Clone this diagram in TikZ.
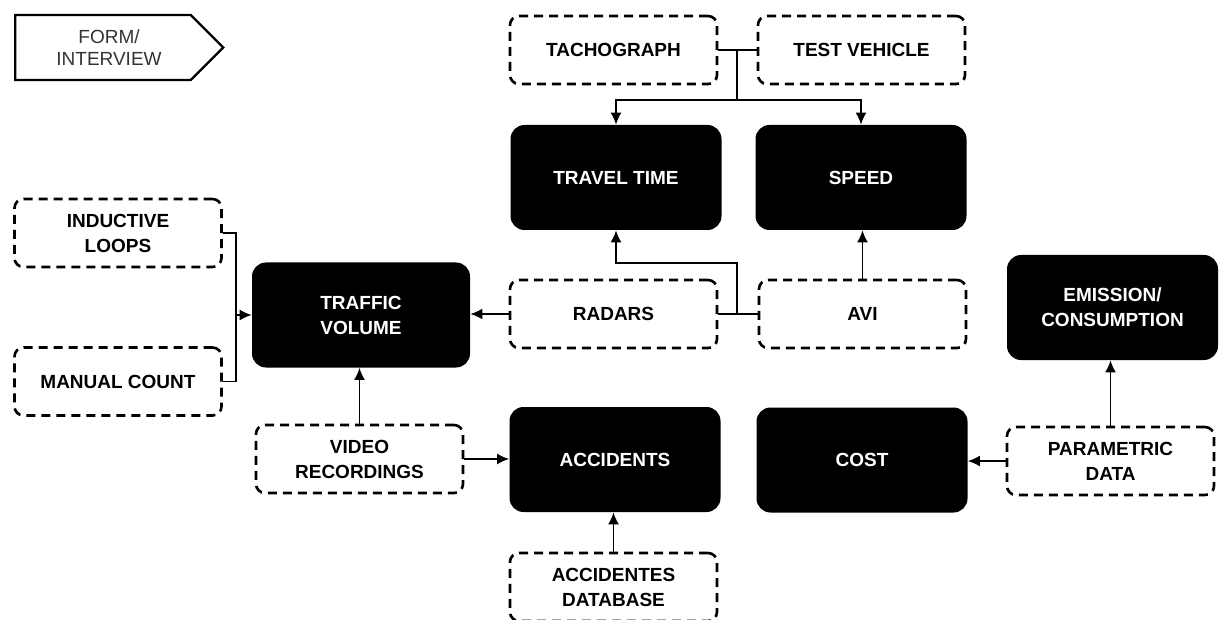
\documentclass[tikz,border=0pt]{standalone}
\usepackage{fontspec}
\setmainfont{Liberation Sans}
\usetikzlibrary{arrows.meta,shapes,positioning}
\tikzset{
  basic/.style  = {align=center, font=\fontsize{9.5}{12.5}\selectfont\bfseries, inner sep=2pt},
  source/.style = {basic, draw, line width=1.3pt, dash pattern=on 4.5pt off 3pt,
                   rounded corners=4.5pt, minimum width=103.5pt, minimum height=34pt},
  measure/.style = {basic, fill=black, text=white, rounded corners=7pt,
                   minimum width=105.5pt, minimum height=52.5pt},
  link/.style = {line width=0.8pt, >={Latex[length=6pt,width=5.5pt]}}
}
\begin{document}
\begin{tikzpicture}[x=0.5pt,y=-0.5pt]
\useasboundingbox (0,0) rectangle (1221,620);
\node[signal, signal to=east, signal from=nowhere, draw, line width=1.2pt,
  minimum width=104pt, minimum height=32.5pt, align=center, text=black!80,
  font=\fontsize{9.5}{11}\selectfont] (form) at (103,47.5) {\hspace*{6pt}FORM/\\\hspace*{6pt}INTERVIEW};
% sources
\node[source] (tacho) at (613.5,50) {TACHOGRAPH};
\node[source] (testv) at (861.5,50) {TEST VEHICLE};
\node[source] (radars) at (613.5,314) {RADARS};
\node[source] (avi) at (862.5,314) {AVI};
\node[source] (loops) at (118,233) {INDUCTIVE\\LOOPS};
\node[source] (manual) at (118,381.5) {MANUAL COUNT};
\node[source] (video) at (359.5,459) {VIDEO\\RECORDINGS};
\node[source] (accdb) at (613.5,587) {ACCIDENTES\\DATABASE};
\node[source] (param) at (1110.5,461) {PARAMETRIC\\DATA};
% measures
\node[measure] (travel) at (616,177.5) {TRAVEL TIME};
\node[measure] (speed) at (861,177.5) {SPEED};
\node[measure, minimum width=109pt] (traffic) at (361,315) {TRAFFIC\\VOLUME};
\node[measure] (accidents) at (615,459.5) {ACCIDENTS};
\node[measure] (emission) at (1112.5,307.5) {EMISSION/\\CONSUMPTION};
\node[measure] (cost) at (862,460) {COST};
% junctions
\coordinate (j1) at (737,50);
\coordinate (split) at (737,100);
\coordinate (j2) at (737,314);
\coordinate (bend) at (737,263);
\coordinate (j3) at (236,315);
% links
\draw[link] (tacho.east) -- (testv.west);
\draw[link] (j1) -- (split);
\draw[link,->] (split) -| (travel.north);
\draw[link,->] (split) -| (speed.north);
\draw[link] (radars.east) -- (avi.west);
\draw[link,->] (j2) -- (bend) -| (travel.south);
\draw[link,->] (avi.north) -- (avi.north |- speed.south);
\draw[link,->] (radars.west) -- (radars.west -| traffic.east);
\draw[link] (loops.east) -| (j3);
\draw[link] (manual.east) -| (j3);
\draw[link,->] (j3) -- (traffic.west);
\draw[link,->] (video.north) -- (video.north |- traffic.south);
\draw[link,->] (video.east) -- (video.east -| accidents.west);
\draw[link,->] (accdb.north) -- (accdb.north |- accidents.south);
\draw[link,->] (param.north) -- (param.north |- emission.south);
\draw[link,->] (param.west) -- (param.west -| cost.east);
\end{tikzpicture}
\end{document}
